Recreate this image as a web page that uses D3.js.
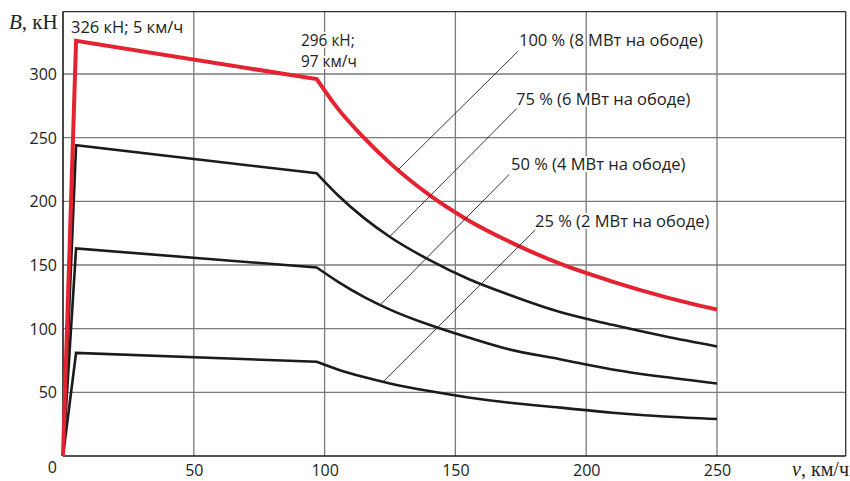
<!DOCTYPE html>
<html>
<head>
<meta charset="utf-8">
<script src="https://cdn.jsdelivr.net/npm/d3@7"></script>
<style>
  html, body { margin: 0; padding: 0; background: #fff; }
  svg { display: block; }
</style>
</head>
<body>
<svg id="chart" width="850" height="481"></svg>
<script>
// ---- data ----
const startSpeeds = [0, 5, 97];              // km/h: start, peak, knee
const curveSpeeds = [97, 105, 115, 125, 140, 155, 170, 190, 210, 230, 250]; // km/h
const seriesNames = ["100 % (8 МВт на ободе)", "75 % (6 МВт на ободе)", "50 % (4 МВт на ободе)", "25 % (2 МВт на ободе)"];
const startForce100 = [0, 326, 296];
const startForce75  = [0, 244, 222];
const startForce50  = [0, 163, 148];
const startForce25  = [0, 81, 74];
const curveForce100 = [296, 273, 250, 230, 205, 185, 169, 151, 137, 125, 115];
const curveForce75  = [222, 205, 187, 172, 154, 139, 127, 113, 103, 94, 86];
const curveForce50  = [148, 137, 125, 115, 103, 93, 84, 76, 68, 62, 57];
const curveForce25  = [74, 68, 62, 57, 51, 46, 42, 38, 34, 31, 29];
const xTicks = [50, 100, 150, 200, 250];
const yTicks = [50, 100, 150, 200, 250, 300];
// leader lines: label anchor (v, F) -> point on curve (v, F)
const leaderFrom = [[174, 318], [173.5, 273], [170.5, 221], [180.5, 177.5]];
const leaderTo   = [[128, 224.5], [125, 172.5], [121.2, 118.5], [122.5, 58.6]];
const peakNote = ["326 кН; 5 км/ч"];
const kneeNote = ["296 кН;", "97 км/ч"];

// ---- layout ----
const svg = d3.select("#chart");
const x = d3.scaleLinear().domain([0, 250]).range([63, 717]);
const y = d3.scaleLinear().domain([0, 300]).range([456, 74]);
const xMax = 299.2, yMax = 349;
const gridColor = "#7a7a7a";
const sans = "'Open Sans', 'Noto Sans', sans-serif";
const serif = "'Liberation Serif', 'DejaVu Serif', serif";

// grid
const g = svg.append("g");
g.selectAll("line.h").data(yTicks).join("line")
  .attr("x1", x(0)).attr("x2", x(xMax))
  .attr("y1", d => y(d)).attr("y2", d => y(d))
  .attr("stroke", gridColor).attr("stroke-width", 1.3);
g.selectAll("line.v").data(xTicks).join("line")
  .attr("x1", d => x(d)).attr("x2", d => x(d))
  .attr("y1", y(0)).attr("y2", y(yMax))
  .attr("stroke", gridColor).attr("stroke-width", 1.3);
// frame
g.append("line").attr("x1", x(0)).attr("x2", x(xMax)).attr("y1", y(yMax)).attr("y2", y(yMax))
  .attr("stroke", "#333").attr("stroke-width", 1.3);
g.append("line").attr("x1", x(xMax)).attr("x2", x(xMax)).attr("y1", y(yMax)).attr("y2", y(0))
  .attr("stroke", "#333").attr("stroke-width", 1.3);
g.append("line").attr("x1", x(0)).attr("x2", x(0)).attr("y1", y(yMax)).attr("y2", y(0))
  .attr("stroke", "#1a1a1a").attr("stroke-width", 1.6);
g.append("line").attr("x1", x(0)).attr("x2", x(xMax)).attr("y1", y(0)).attr("y2", y(0))
  .attr("stroke", "#1a1a1a").attr("stroke-width", 1.6);

// axes labels
const xAxis = d3.axisBottom(x).tickValues(xTicks).tickSize(0).tickPadding(0).tickFormat(d3.format("d"));
const xa = svg.append("g").attr("transform", `translate(0,${y(0)})`).call(xAxis);
xa.select(".domain").remove();
xa.selectAll("text").attr("y", 20).attr("dy", 0).attr("font-size", 16).attr("font-family", sans).attr("fill", "#222");

const yAxis = d3.axisLeft(y).tickValues(yTicks).tickSize(0).tickPadding(6).tickFormat(d3.format("d"));
const ya = svg.append("g").attr("transform", `translate(${x(0)},0)`).call(yAxis);
ya.select(".domain").remove();
ya.selectAll("text").attr("font-size", 16).attr("font-family", sans).attr("fill", "#222").attr("dy", "0.35em");

svg.append("text").attr("x", x(0) - 6).attr("y", y(0) + 17).attr("text-anchor", "end")
  .attr("font-size", 16).attr("font-family", sans).attr("fill", "#222").text("0");

// axis titles
const bt = svg.append("text").attr("x", 9).attr("y", 29).attr("font-size", 21).attr("font-family", serif).attr("fill", "#222");
bt.append("tspan").attr("font-style", "italic").text("B");
bt.append("tspan").text(", кН");
const vt = svg.append("text").attr("x", 849).attr("y", 476).attr("text-anchor", "end").attr("font-size", 20).attr("font-family", serif).attr("fill", "#222");
vt.append("tspan").attr("font-style", "italic").text("v");
vt.append("tspan").text(", км/ч");

// curves
const lineLin = d3.line().x(d => x(d[0])).y(d => y(d[1]));
const lineSmooth = d3.line().x(d => x(d[0])).y(d => y(d[1])).curve(d3.curveMonotoneX);
const series = [
  { s: startForce100, c: curveForce100, color: "#e52330", w: 4 },
  { s: startForce75,  c: curveForce75,  color: "#1c1a1a", w: 2.6 },
  { s: startForce50,  c: curveForce50,  color: "#1c1a1a", w: 2.6 },
  { s: startForce25,  c: curveForce25,  color: "#1c1a1a", w: 2.6 }
];
const curvesG = svg.append("g");
// draw black first, red on top
[1, 2, 3, 0].forEach(i => {
  const sr = series[i];
  const pts1 = startSpeeds.map((v, k) => [v, sr.s[k]]);
  const pts2 = curveSpeeds.map((v, k) => [v, sr.c[k]]);
  const d = lineLin(pts1) + lineSmooth(pts2).replace(/^M/, "L");
  curvesG.append("path").attr("d", d).attr("fill", "none")
    .attr("stroke", sr.color).attr("stroke-width", sr.w).attr("stroke-linejoin", "miter").attr("stroke-miterlimit", 10);
});

// leader lines
svg.append("g").selectAll("line").data(leaderFrom).join("line")
  .attr("x1", d => x(d[0])).attr("y1", d => y(d[1]))
  .attr("x2", (d, i) => x(leaderTo[i][0])).attr("y2", (d, i) => y(leaderTo[i][1]))
  .attr("stroke", "#222").attr("stroke-width", 0.9);

// labels with white halo
function halo(sel, size) {
  sel.attr("font-family", sans).attr("font-size", size || 16.5).attr("fill", "#222")
    .attr("stroke", "#fff").attr("stroke-width", 4).attr("paint-order", "stroke").attr("stroke-linejoin", "round");
}
const labelPos = [[519, 46], [516, 105], [511, 170], [535, 227]];
svg.append("g").selectAll("text").data(seriesNames).join("text")
  .attr("x", (d, i) => labelPos[i][0]).attr("y", (d, i) => labelPos[i][1])
  .text(d => d).call(halo);

svg.append("text").attr("x", 71).attr("y", 33).text(peakNote[0]).call(halo);
svg.append("g").selectAll("text").data(kneeNote).join("text")
  .attr("x", 301).attr("y", (d, i) => 46 + i * 21).text(d => d).call(halo, 15.4);
</script>
</body>
</html>
